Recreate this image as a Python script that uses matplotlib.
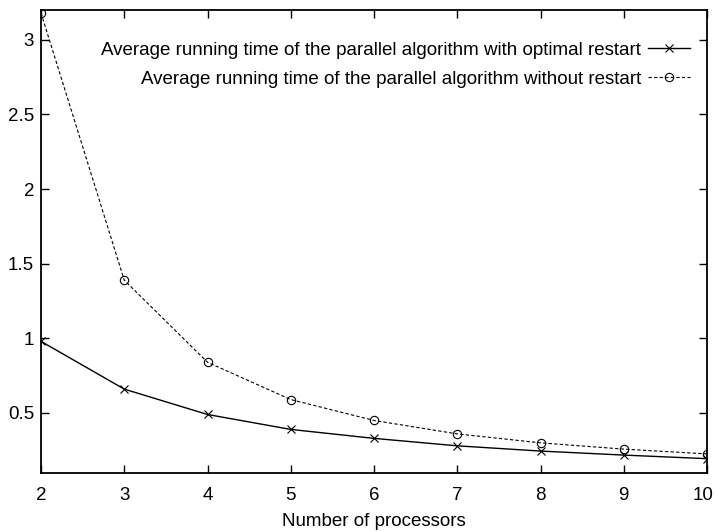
import matplotlib
matplotlib.use("Agg")
import matplotlib.pyplot as plt
import matplotlib.transforms as mtransforms

plt.rcParams["font.family"] = ["Liberation Sans", "DejaVu Sans"]
plt.rcParams["font.size"] = 13.5

# data
processors = [2, 3, 4, 5, 6, 7, 8, 9, 10]
time_restart = [0.98, 0.66, 0.49, 0.39, 0.33, 0.28, 0.245, 0.218, 0.194]
time_no_restart = [3.18, 1.39, 0.84, 0.59, 0.45, 0.36, 0.30, 0.258, 0.226]
label_restart = "Average running time of the parallel algorithm with optimal restart"
label_no_restart = "Average running time of the parallel algorithm without restart"
y_ticks = [0.5, 1, 1.5, 2, 2.5, 3]

fig = plt.figure(figsize=(7.15, 5.31), dpi=100)
ax = fig.add_axes([41 / 715, 1 - 472.7 / 531, 666 / 715, 462.7 / 531])

ax.plot(processors, time_restart, color="black", lw=1, marker="x", ms=6,
        mew=0.8, label=label_restart)
ax.plot(processors, time_no_restart, color="black", lw=0.8, ls=(0, (3, 2)),
        marker="o", ms=6, mfc="none", mew=0.8, label=label_no_restart)

ax.set_xlim(2, 10)
ax.set_ylim(0.1, 3.2)
ax.set_xticks(processors)
ax.set_yticks(y_ticks)
ax.set_yticklabels(["0.5", "1", "1.5", "2", "2.5", "3"])
ax.tick_params(direction="in", top=True, right=True, length=6, width=1)
ax.tick_params(axis="x", pad=10)
ax.tick_params(axis="y", pad=5)
for s in ax.spines.values():
    s.set_linewidth(1.3)
ax.set_xlabel("Number of processors", labelpad=7)

# nudge the last x label so it stays inside the image
last = ax.get_xticklabels()[-1]
last.set_transform(last.get_transform()
                   + mtransforms.ScaledTranslation(-4 / 100, 0, fig.dpi_scale_trans))

ax.legend(loc="upper right", frameon=False, markerfirst=False,
          bbox_to_anchor=(0.9745, 0.931), handlelength=2.24, handletextpad=0.37,
          labelspacing=0.62, borderaxespad=0, borderpad=0)

fig.savefig("out.png", dpi=100)
